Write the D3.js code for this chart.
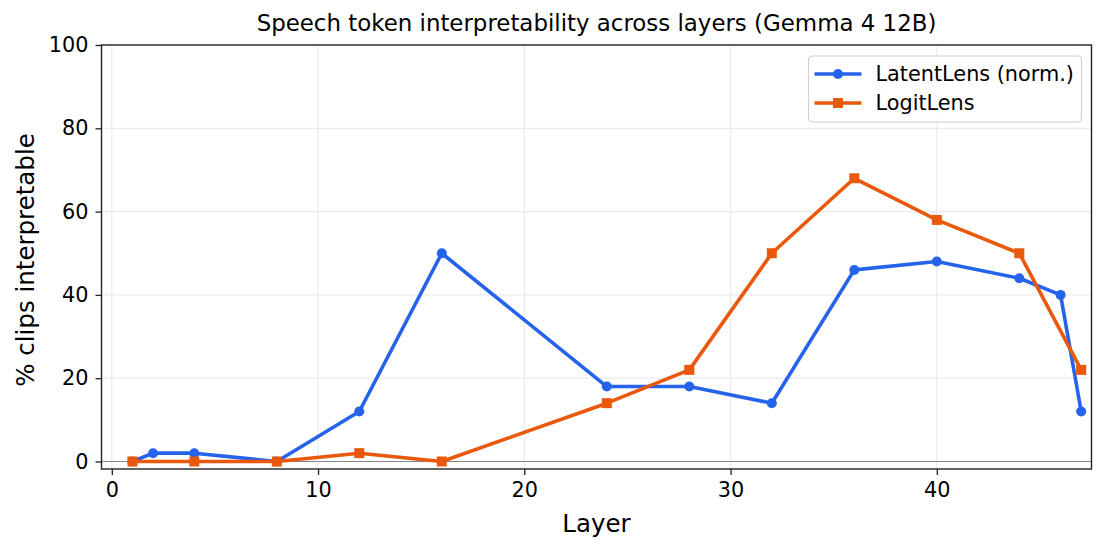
<!DOCTYPE html>
<html>
<head>
<meta charset="utf-8">
<script src="https://cdn.jsdelivr.net/npm/d3@7"></script>
<style>
  body { margin: 0; background: #fff; }
  svg { font-family: "DejaVu Sans", sans-serif; }
</style>
</head>
<body>
<svg id="chart" width="1107" height="551"></svg>
<script>
var latentLayers = [1, 2, 4, 8, 12, 16, 24, 28, 32, 36, 40, 44, 46, 47];
var latentVals   = [0, 2, 2, 0, 12, 50, 18, 18, 14, 46, 48, 44, 40, 12];
var logitLayers  = [1, 4, 8, 12, 16, 24, 28, 32, 36, 40, 44, 47];
var logitVals    = [0, 0, 0, 2, 0, 14, 22, 50, 68, 58, 50, 22];
var xTicks = [0, 10, 20, 30, 40];
var yTicks = [0, 20, 40, 60, 80, 100];

var margin = { top: 45, right: 15.5, bottom: 82, left: 101.5 },
    width = 1107 - margin.left - margin.right,
    height = 551 - margin.top - margin.bottom;

var svg = d3.select("#chart")
  .append("g")
  .attr("transform", "translate(" + margin.left + "," + margin.top + ")");

var x = d3.scaleLinear().domain([-0.5, 47.5]).range([0, width]);
var y = d3.scaleLinear().domain([-1.8, 100]).range([height, 0]);

// grid
svg.append("g").selectAll("line").data(xTicks).join("line")
  .attr("x1", d => x(d)).attr("x2", d => x(d))
  .attr("y1", 0).attr("y2", height)
  .attr("stroke", "#ebebeb").attr("stroke-width", 1.2);
svg.append("g").selectAll("line").data(yTicks).join("line")
  .attr("x1", 0).attr("x2", width)
  .attr("y1", d => y(d)).attr("y2", d => y(d))
  .attr("stroke", "#ebebeb").attr("stroke-width", 1.2);

// zero line
svg.append("line")
  .attr("x1", 0).attr("x2", width)
  .attr("y1", y(0)).attr("y2", y(0))
  .attr("stroke", "#888").attr("stroke-width", 1.2);

var xAxis = svg.append("g")
  .attr("transform", "translate(0," + height + ")")
  .call(d3.axisBottom(x).tickValues(xTicks).tickSize(6).tickPadding(7));
var yAxis = svg.append("g")
  .call(d3.axisLeft(y).tickValues(yTicks).tickSize(6).tickPadding(7));
[xAxis, yAxis].forEach(a => {
  a.select(".domain").remove();
  a.selectAll("text").attr("font-size", 20.8).attr("fill", "#000").attr("font-family", "DejaVu Sans");
  a.selectAll("line").attr("stroke", "#222").attr("stroke-width", 1.3);
});

var line = d3.line().x(d => x(d[0])).y(d => y(d[1]));
var latent = latentLayers.map((l, i) => [l, latentVals[i]]);
var logit = logitLayers.map((l, i) => [l, logitVals[i]]);

var blue = "#2563eb", orange = "#ea580c";

svg.append("path").datum(latent)
  .attr("fill", "none").attr("stroke", blue).attr("stroke-width", 3.6)
  .attr("stroke-linejoin", "round").attr("d", line);
svg.append("g").selectAll("circle").data(latent).join("circle")
  .attr("cx", d => x(d[0])).attr("cy", d => y(d[1])).attr("r", 5)
  .attr("fill", blue);

svg.append("path").datum(logit)
  .attr("fill", "none").attr("stroke", orange).attr("stroke-width", 3.6)
  .attr("stroke-linejoin", "round").attr("d", line);
svg.append("g").selectAll("rect").data(logit).join("rect")
  .attr("x", d => x(d[0]) - 5).attr("y", d => y(d[1]) - 5)
  .attr("width", 10).attr("height", 10)
  .attr("fill", orange);

// frame
svg.append("rect").attr("width", width).attr("height", height)
  .attr("fill", "none").attr("stroke", "#222").attr("stroke-width", 1.4);

// title and labels
svg.append("text").attr("x", width / 2).attr("y", -14)
  .attr("text-anchor", "middle").attr("font-size", 22.9).text("Speech token interpretability across layers (Gemma 4 12B)");
svg.append("text").attr("x", width / 2).attr("y", height + 63)
  .attr("text-anchor", "middle").attr("font-size", 24.5).text("Layer");
svg.append("text")
  .attr("transform", "translate(" + (-68) + "," + (height / 2 + 3) + ") rotate(-90)")
  .attr("text-anchor", "middle").attr("font-size", 24.5).text("% clips interpretable");

// legend
var legend = svg.append("g").attr("transform", "translate(" + (width - 283) + ",11)");
legend.append("rect").attr("width", 273).attr("height", 66).attr("rx", 4)
  .attr("fill", "#fff").attr("fill-opacity", 0.85).attr("stroke", "#d0d0d0").attr("stroke-width", 1.2);
var items = [
  { name: "LatentLens (norm.)", color: blue, shape: "circle" },
  { name: "LogitLens", color: orange, shape: "square" }
];
items.forEach((it, i) => {
  var g = legend.append("g").attr("transform", "translate(0," + (18 + i * 29) + ")");
  g.append("line").attr("x1", 6).attr("x2", 53).attr("stroke", it.color).attr("stroke-width", 3.6);
  if (it.shape == "circle") {
    g.append("circle").attr("cx", 29.5).attr("r", 5).attr("fill", it.color);
  } else {
    g.append("rect").attr("x", 24.5).attr("y", -5).attr("width", 10).attr("height", 10).attr("fill", it.color);
  }
  g.append("text").attr("x", 67).attr("dy", "0.35em").attr("font-size", 20.8).text(it.name);
});
</script>
</body>
</html>
